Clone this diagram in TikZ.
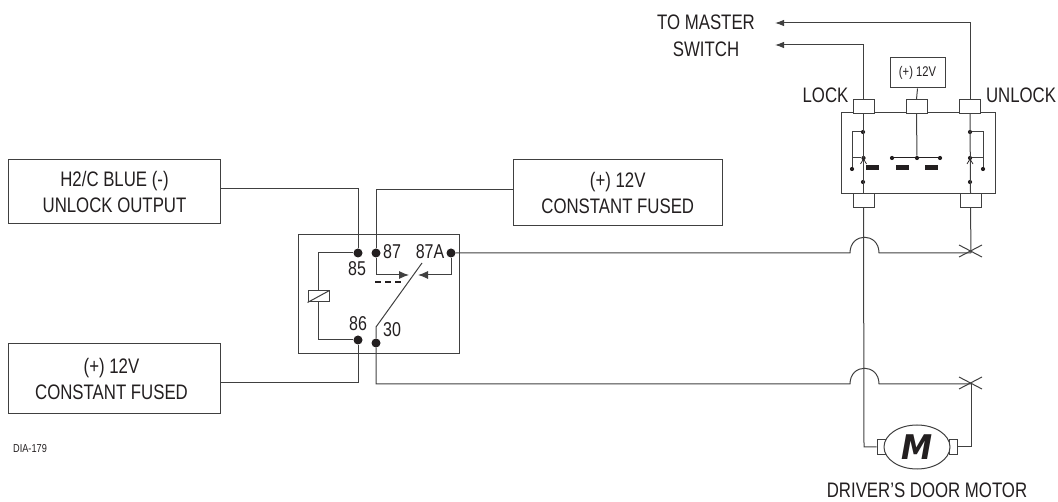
\documentclass[tikz,border=0pt]{standalone}
\usepackage{fontspec}
\setmainfont[FakeStretch=0.8]{Liberation Sans}
\newfontfamily\mfont[FakeStretch=0.92]{DejaVu Sans}
\usetikzlibrary{arrows.meta,shapes.geometric}
\definecolor{ink}{HTML}{231F20}
\definecolor{wirecol}{HTML}{404040}
\tikzset{
  wire/.style={draw=wirecol,line width=1pt},
  arrowed/.style={wire,-{Latex[length=10pt,width=8pt]}},
  farrow/.style={wire,-{Latex[length=9pt,width=6.5pt]}},
  labelbox/.style={draw=wirecol,line width=1pt,fill=white,align=center,font=\fontsize{21}{26}\selectfont,text=ink,inner sep=0pt},
  tab/.style={draw=wirecol,line width=1pt,fill=white,minimum width=21pt,minimum height=13.5pt,inner sep=0pt},
  bigdot/.style={circle,fill=ink,minimum size=9pt,inner sep=0pt},
  smalldot/.style={circle,fill=ink,minimum size=4.2pt,inner sep=0pt},
  bar/.style={fill=ink,minimum width=13pt,minimum height=5pt,inner sep=0pt},
  txt/.style={text=ink,inner sep=0pt,font=\fontsize{21}{26}\selectfont,align=center},
  num/.style={text=ink,inner sep=0pt,font=\fontsize{20}{22}\selectfont}
}
\begin{document}
\begin{tikzpicture}[x=1pt,y=-1pt]
\useasboundingbox (0,0) rectangle (1058,502);
% relay
\node[draw=wirecol,line width=1pt,minimum width=161pt,minimum height=119pt,inner sep=0pt] (relay) at (378.5,294.5) {};
% label boxes
\node[labelbox,minimum width=212pt,minimum height=64pt] (blue) at (114.5,192) {H2/C BLUE (-)\\UNLOCK OUTPUT};
\node[labelbox,minimum width=209.5pt,minimum height=66pt] (fused1) at (617.75,193) {(+) 12V\\CONSTANT FUSED};
\node[labelbox,minimum width=212pt,minimum height=70pt] (fused2) at (114.5,379) {\hspace*{-6pt}(+) 12V\\\hspace*{-6pt}CONSTANT FUSED};
% relay dots
\node[bigdot] (d85) at (358,253) {};
\node[bigdot] (d87) at (376,253) {};
\node[bigdot] (d87a) at (451,253) {};
\node[bigdot] (d86) at (358,340) {};
\node[bigdot] (d30) at (376,343) {};
\node[num] (n85) at (357,269) {85};
\node[num] (n87) at (392,252) {87};
\node[num] (n87a) at (430,252) {87A};
\node[num] (n86) at (358,324) {86};
\node[num] (n30) at (392,330) {30};
% coil
\node[draw=wirecol,line width=1pt,minimum width=21pt,minimum height=11pt,inner sep=0pt] (coil) at (318.5,296.5) {};
\draw[wire] (coil.south west) -- (coil.north east);
\draw[wire] (d85) -| (coil.north);
\draw[wire] (d86) -| (coil.south);
% contacts
\coordinate (tip87) at (409,275);
\coordinate (tip87a) at (418,275);
\draw[arrowed] (d87) |- (tip87);
\draw[arrowed] (d87a) |- (tip87a);
\coordinate (armbase) at (376,327);
\coordinate (armend) at (422,263);
\draw[wire] (d30) -- (armbase) -- (armend);
\coordinate (dasha) at (375,282);
\coordinate (dashb) at (401,282);
\draw[draw=ink,line width=1.5pt,dash pattern=on 5.5pt off 4.5pt] (dasha) -- (dashb);
% wires to boxes
\coordinate (w85) at (220.5,189);
\coordinate (w87) at (513,190);
\coordinate (w86) at (220.5,383);
\draw[wire] (d85) |- (w85);
\draw[wire] (d87) |- (w87);
\draw[wire] (d86) |- (w86);
% module
\node[draw=wirecol,line width=1pt,minimum width=154pt,minimum height=81pt,inner sep=0pt] (mod) at (918,153.5) {};
\node[tab] (tl) at (863.5,106.5) {};
\node[tab] (tm) at (916.5,106.5) {};
\node[tab] (tr) at (970,106.5) {};
\node[tab] (bl) at (863.5,200.5) {};
\node[tab] (br) at (970.5,200.5) {};
\node[draw=wirecol,line width=1pt,minimum width=55pt,minimum height=30pt,inner sep=0pt,text=ink,font=\fontsize{14}{16}\selectfont] (v12) at (917.5,73) {(+) 12V};
\draw[wire] (v12.south) -- (tm.north);
% module internals
\node[smalldot] (la) at (863,132) {};
\node[smalldot] (lb) at (863.5,158) {};
\node[smalldot] (lc) at (852,169) {};
\node[smalldot] (ld) at (863,182) {};
\node[smalldot] (ra) at (970,132) {};
\node[smalldot] (rb) at (970,158) {};
\node[smalldot] (rc) at (983,169) {};
\node[smalldot] (rd) at (970,182) {};
\node[smalldot] (ma) at (892,158) {};
\node[smalldot] (mb) at (917,158) {};
\node[smalldot] (mc) at (940,158) {};
\node[bar] (b1) at (872.5,167.5) {};
\node[bar] (b2) at (902.5,167.5) {};
\node[bar] (b3) at (931.5,167.5) {};
\draw[wire] (tm.south) -- (mb);
\draw[draw=ink,line width=1pt] (ma) -- (mc);
\draw[wire] (tl.south) -- (bl.north);
\draw[wire] (tr.south) -- (br.north);
\draw[wire] (la) -| (lc);
\draw[wire] (lb) -- (lb -| lc);
\draw[wire] (ra) -| (rc);
\draw[wire] (rb) -- (rb -| rc);
\coordinate (lca) at (860.5,164);
\coordinate (lcb) at (863.5,159);
\coordinate (lcc) at (866.5,164);
\draw[draw=ink,line width=.7pt] (lca) -- (lcb) -- (lcc);
\coordinate (rca) at (967,164);
\coordinate (rcb) at (970,159);
\coordinate (rcc) at (973,164);
\draw[draw=ink,line width=.7pt] (rca) -- (rcb) -- (rcc);
% outputs to master switch
\coordinate (arr1) at (775,23);
\coordinate (arr2) at (775,45);
\draw[farrow] (tr.north) |- (arr1);
\draw[farrow] (tl.north) |- (arr2);
\node[txt] (master) at (706,22) {TO MASTER};
\node[txt] (switch) at (706,49) {SWITCH};
\node[txt] (lock) at (825.5,95) {LOCK};
\node[txt] (unlock) at (1021,95) {UNLOCK};
% motor
\node[draw=wirecol,line width=1pt,fill=white,minimum width=8pt,minimum height=15pt,inner sep=0pt] (ml) at (881,447) {};
\node[draw=wirecol,line width=1pt,fill=white,minimum width=8pt,minimum height=15pt,inner sep=0pt] (mr) at (953,447) {};
\node[draw=wirecol,line width=1pt,fill=white,ellipse,minimum width=66pt,minimum height=44pt,inner sep=0pt,text=ink,font=\mfont\fontsize{34}{34}\selectfont\bfseries\itshape] (motor) at (917,447) {M};
\node[txt] (mlabel) at (927,490.5) {DRIVER'S DOOR MOTOR};
\node[text=ink,inner sep=0pt,font=\fontsize{11.5}{12}\selectfont] (dia) at (30,449) {DIA-179};
% crossings
\coordinate (x1) at (971,253);
\coordinate (x1a) at (959,257);
\coordinate (x1b) at (982,245);
\coordinate (x1c) at (959,245);
\coordinate (x1d) at (982,257);
\draw[wire] (x1a) -- (x1b);
\draw[wire] (x1c) -- (x1d);
\coordinate (x2) at (971,384);
\coordinate (x2a) at (959,389);
\coordinate (x2b) at (982,377);
\coordinate (x2c) at (959,377);
\coordinate (x2d) at (982,389);
\draw[wire] (x2a) -- (x2b);
\draw[wire] (x2c) -- (x2d);
% long wires
\draw[wire] (bl.south) -- (864,447) -- (ml.west);
\draw[wire] (br.south) -- (x1);
\draw[wire] (x2) -- (971,447) -- (mr.east);
\coordinate (j1a) at (850,253);
\coordinate (j1b) at (879,253);
\coordinate (j2a) at (850,384);
\coordinate (j2b) at (879,384);
\draw[wire] (d87a) -- (j1a) .. controls (850,232) and (879,232) .. (j1b) -- (x1);
\coordinate (c30) at (376,384);
\draw[wire] (d30) -- (c30) -- (j2a) .. controls (850,363) and (879,363) .. (j2b) -- (x2);
\end{tikzpicture}
\end{document}
